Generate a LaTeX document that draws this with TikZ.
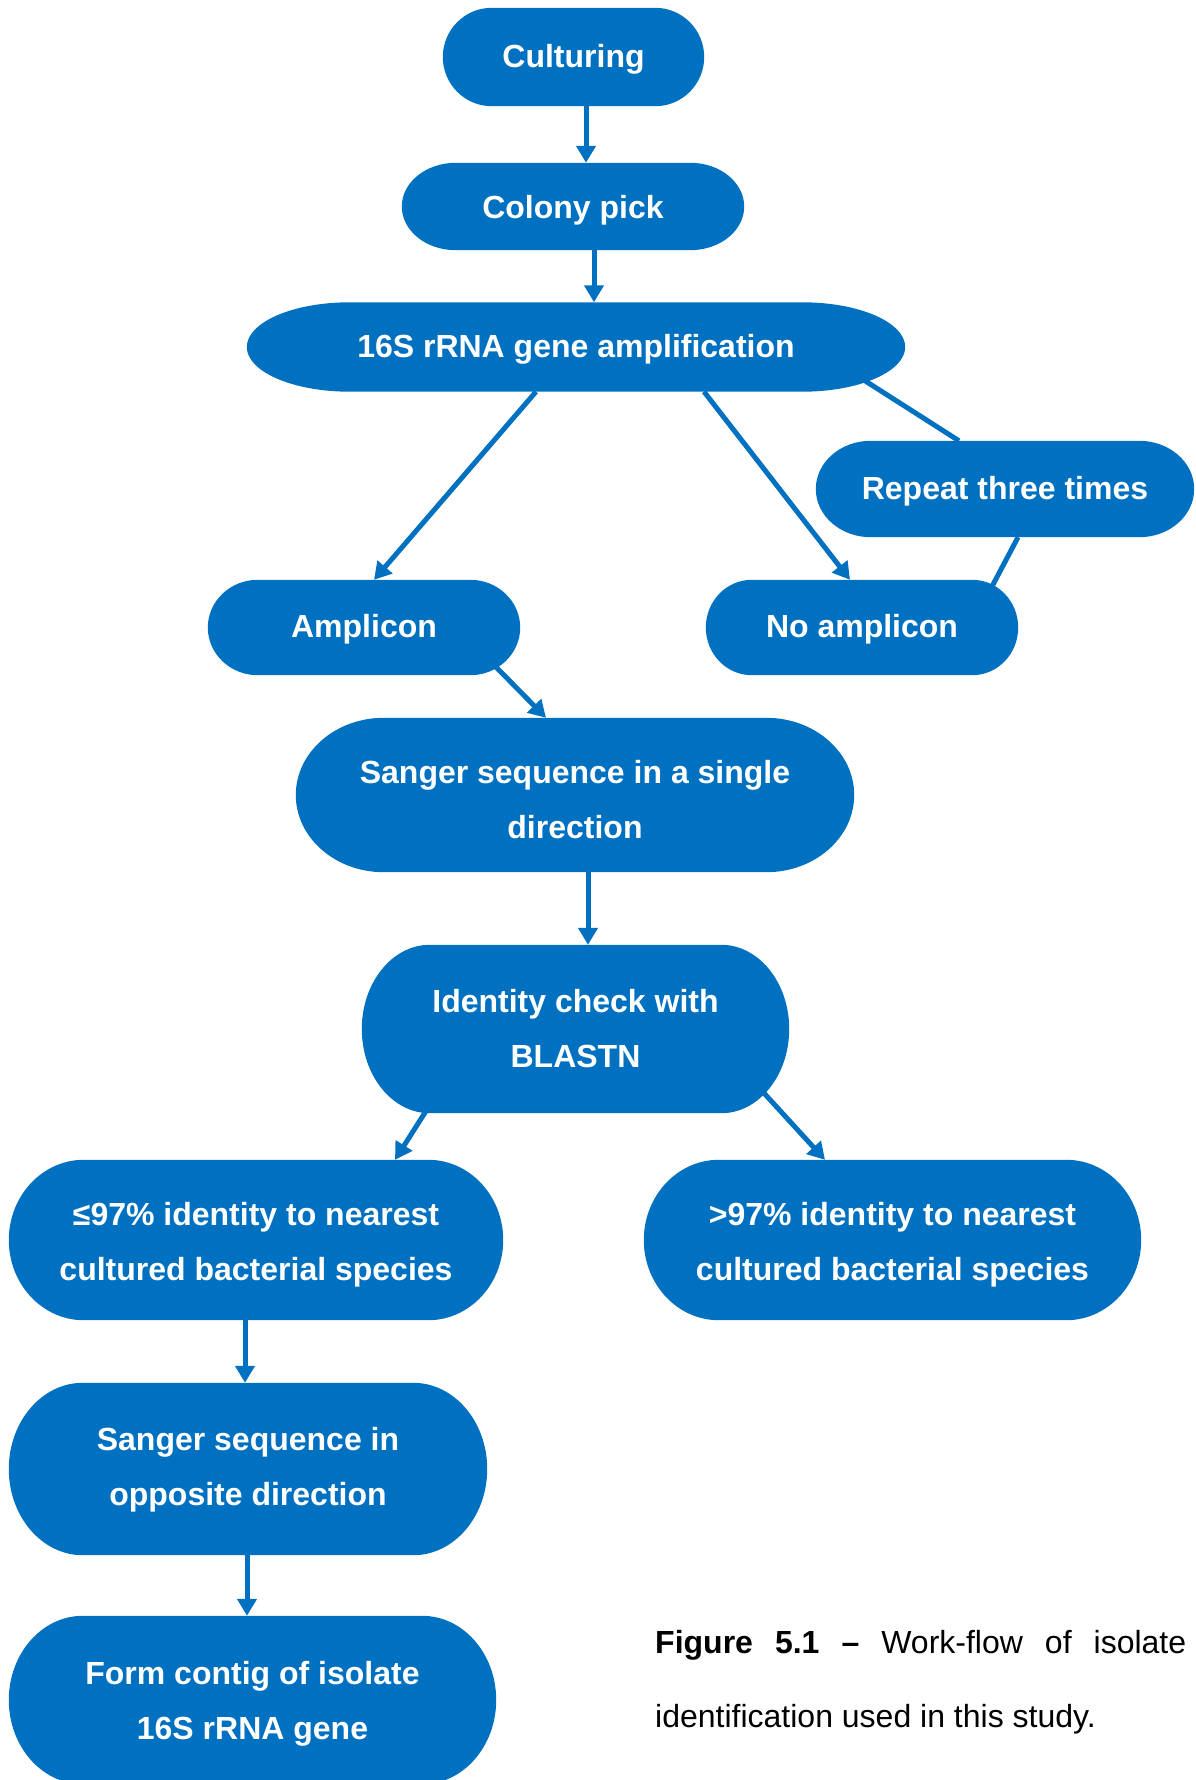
\documentclass[tikz,border=0pt]{standalone}
\usepackage{fontspec}
\setmainfont{Liberation Sans}
\usetikzlibrary{arrows.meta,calc,backgrounds}

\definecolor{flowblue}{HTML}{0070C0}

% Filled capsule behind a node: flat top and bottom, half-ellipse ends of x radius #2
\newcommand\capsule[2]{%
  \fill[flowblue] let \p1=(#1.north east), \p2=(#1.south west), \n1={(\y1-\y2)/2} in
    (\x2+#2,\y1) -- (\x1-#2,\y1)
    arc[start angle=90,end angle=-90,x radius=#2,y radius=\n1]
    -- (\x2+#2,\y2)
    arc[start angle=270,end angle=90,x radius=#2,y radius=\n1] -- cycle;}

% invisible strut that lowers a two-line label a little
\newcommand\lowerby[1]{\rule{0pt}{\dimexpr 23.5pt+2\dimexpr #1\relax\relax}}

\tikzset{
  flow/.style={inner sep=0pt, text=white, align=center,
    font=\bfseries\fontsize{32}{55}\selectfont},
  oneline/.style={text height=23pt, text depth=3pt},
  arr/.style={draw=flowblue, line width=5pt, -{Triangle[length=17pt,width=19pt]}},
  link/.style={draw=flowblue, line width=5pt},
}

\begin{document}
\begin{tikzpicture}[x=1pt,y=1pt]
\useasboundingbox (0,0) rectangle (1195,-1780);

% process steps
\node[flow, oneline, minimum width=261pt, minimum height=98pt]  (cult)   at (573.5,-57)   {Culturing};
\node[flow, oneline, text depth=0pt, minimum width=342pt, minimum height=87pt] (colony) at (573,-206.5) {Colony pick};
\node[flow, oneline, minimum width=658pt, minimum height=89pt]  (amp16)  at (576,-347)    {16S rRNA gene amplification};
\node[flow, oneline, minimum width=378pt, minimum height=96pt]  (rep)    at (1005,-489)   {Repeat three times};
\node[flow, oneline, minimum width=312pt, minimum height=95pt]  (amp)    at (364,-627.5)  {Amplicon};
\node[flow, oneline, minimum width=312pt, minimum height=95pt]  (noamp)  at (862,-627.5)  {No amplicon};
\node[flow, minimum width=558pt, minimum height=154pt] (sang1)  at (575,-795)    {\lowerby{4.5pt}Sanger sequence in a single\\direction};
\node[flow, minimum width=427pt, minimum height=168pt] (ident)  at (575.5,-1029) {Identity check with\\BLASTN};
\node[flow, minimum width=494pt, minimum height=160pt] (le97)   at (256,-1240)   {\lowerby{5pt}≤97\% identity to nearest\\cultured bacterial species};
\node[flow, minimum width=497pt, minimum height=160pt] (gt97)   at (892.5,-1240) {\lowerby{5pt}>97\% identity to nearest\\cultured bacterial species};
\node[flow, minimum width=478pt, minimum height=172pt] (sopp)   at (248,-1469)   {\lowerby{1pt}Sanger sequence in\\opposite direction};
\node[flow, minimum width=487pt, minimum height=168pt] (form)   at (252.5,-1700) {\lowerby{3.5pt}Form contig of isolate\\16S rRNA gene};

% caption
\node[anchor=base west, inner sep=0pt, text width=531pt, align=justify,
      font=\fontsize{32}{74}\selectfont] (cap) at (655,-1653)
  {\textbf{Figure 5.1 –} Work-flow of isolate \mbox{identification} used in this study.};

\begin{scope}[on background layer]
  \capsule{cult}{49pt}
  \capsule{colony}{54pt}
  \capsule{amp16}{103pt}
  \capsule{rep}{55pt}
  \capsule{amp}{50pt}
  \capsule{noamp}{46pt}
  \capsule{sang1}{88pt}
  \capsule{ident}{68pt}
  \capsule{le97}{75pt}
  \capsule{gt97}{75pt}
  \capsule{sopp}{74pt}
  \capsule{form}{74pt}
\end{scope}

% connectors
\draw[arr] ([xshift=12.5pt]cult.south) -- ([xshift=13pt]colony.north);
\draw[arr] ([xshift=21pt]colony.south) -- ([xshift=18pt]amp16.north);
\draw[arr] ([xshift=-40pt]amp16.south) -- ([xshift=10pt]amp.north);
\draw[arr] ([xshift=128pt]amp16.south) -- ([xshift=-12pt]noamp.north);
\draw[link] ([shift={(287pt,-32.5pt)}]amp16.center) -- ([xshift=-46pt]rep.north);
\draw[link] ([xshift=13pt]rep.south) -- ([shift={(130pt,41pt)}]noamp.center);
\draw[arr] ([shift={(132pt,-39.5pt)}]amp.center) -- ([xshift=-29pt]sang1.north);
\draw[arr] ([xshift=13pt]sang1.south) -- ([xshift=12.5pt]ident.north);
\draw[arr] ([shift={(-149.5pt,-82pt)}]ident.center) -- ([xshift=139pt]le97.north);
\draw[arr] ([shift={(187.5pt,-63pt)}]ident.center) -- ([xshift=-67.5pt]gt97.north);
\draw[arr] ([xshift=-11pt]le97.south) -- ([xshift=-3pt]sopp.north);
\draw[arr] ([xshift=-1pt]sopp.south) -- ([xshift=-5.5pt]form.north);
\end{tikzpicture}
\end{document}
